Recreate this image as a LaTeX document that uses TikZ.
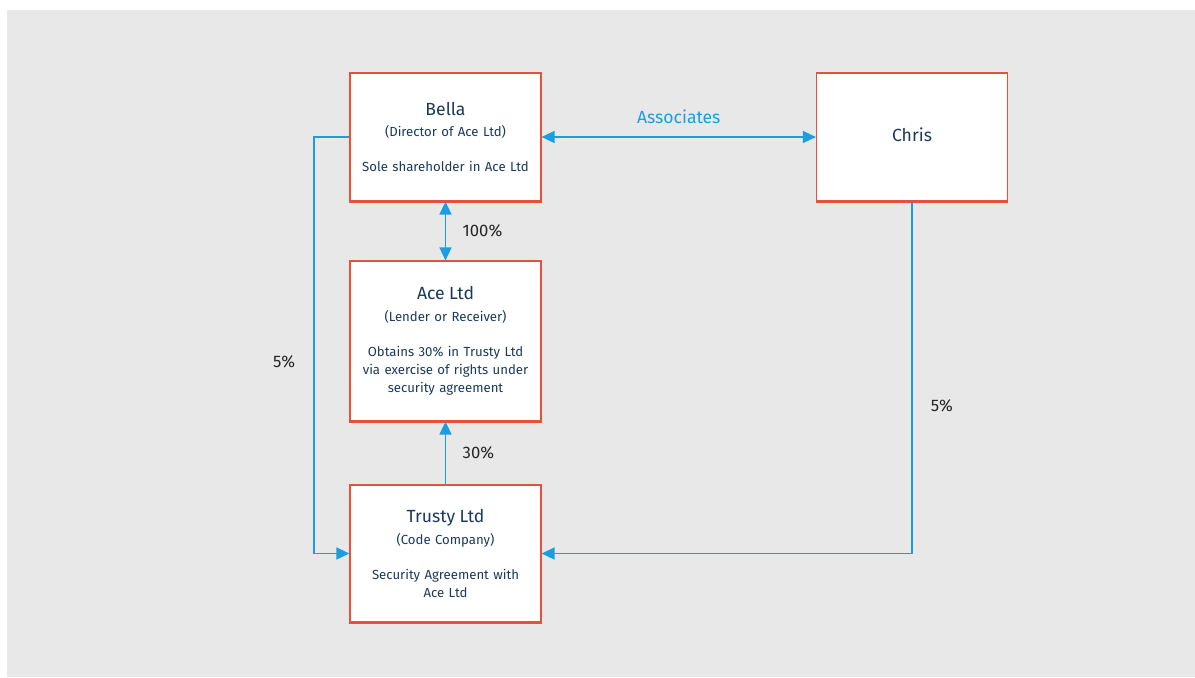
\documentclass[tikz,border=0pt]{standalone}
\usepackage{fontspec}
\setmainfont{Fira Sans}
\usetikzlibrary{arrows.meta, positioning}
\definecolor{bgGrey}{HTML}{E8E8E8}
\definecolor{boxRed}{HTML}{E8503A}
\definecolor{linkBlue}{HTML}{1A9EE0}
\definecolor{textNavy}{HTML}{1B3A5C}
\newcommand{\partyname}[1]{{\fontsize{10}{12}\selectfont #1}\\[2pt]}

\begin{document}
\begin{tikzpicture}[x=0.02cm, y=-0.02cm,
  party/.style={draw=boxRed, line width=0.7pt, fill=white, minimum width=3.82cm,
    text width=3.7cm, align=center, text=textNavy, inner sep=0pt,
    font=\fontsize{7.5}{10.2}\selectfont},
  link/.style={draw=linkBlue, line width=0.9pt},
  tip/.style={-{Triangle[length=2.6mm, width=2.4mm]}},
  tips/.style={{Triangle[length=2.6mm, width=2.4mm]}-{Triangle[length=2.6mm, width=2.4mm]}},
  share/.style={font=\fontsize{9.5}{11}\selectfont, text=black!85}]
  \useasboundingbox (0,0) rectangle (1195,677);
  \fill[white] (0,0) rectangle (1195,677);
  \fill[bgGrey] (7,10) rectangle (1195,677);

  % parties
  \node[party, minimum height=2.56cm] (bella) at (445.5,137)
    {\partyname{Bella}(Director of Ace Ltd)\\[10pt]Sole shareholder in Ace Ltd};
  \node[party, minimum height=2.56cm] (chris) at (912,137)
    {\fontsize{10}{12}\selectfont\raisebox{2.3pt}{Chris}};
  \node[party, minimum height=3.2cm] (ace) at (445.5,341)
    {\partyname{Ace Ltd}(Lender or Receiver)\\[10pt]Obtains 30\% in Trusty Ltd\\via exercise of rights under\\security agreement};
  \node[party, minimum height=2.74cm] (trusty) at (445.5,553.5)
    {\partyname{Trusty Ltd}(Code Company)\\[10pt]Security Agreement with\\Ace Ltd};

  % heavy bottom edges
  \foreach \n in {bella, chris, ace, trusty}
    \draw[boxRed, line width=1.8pt] (\n.south west) -- (\n.south east);

  % links
  \draw[link, tips] (bella.east) -- (chris.west)
    node[midway, above=4pt, text=linkBlue, font=\fontsize{10}{12}\selectfont] {Associates};
  \draw[link, tips] (bella.south) -- (ace.north)
    node[midway, right=6pt, share] {100\%};
  \draw[link, tip] (trusty.north) -- (ace.south)
    node[midway, right=6pt, share] {30\%};
  \coordinate (leftbend) at (314,137);
  \draw[link, tip] (bella.west) -- (leftbend) |- (trusty.west)
    node[pos=0.27, left=7pt, share] {5\%};
  \draw[link, tip] (chris.south) |- (trusty.east)
    node[pos=0.29, right=7pt, share] {5\%};
\end{tikzpicture}
\end{document}
